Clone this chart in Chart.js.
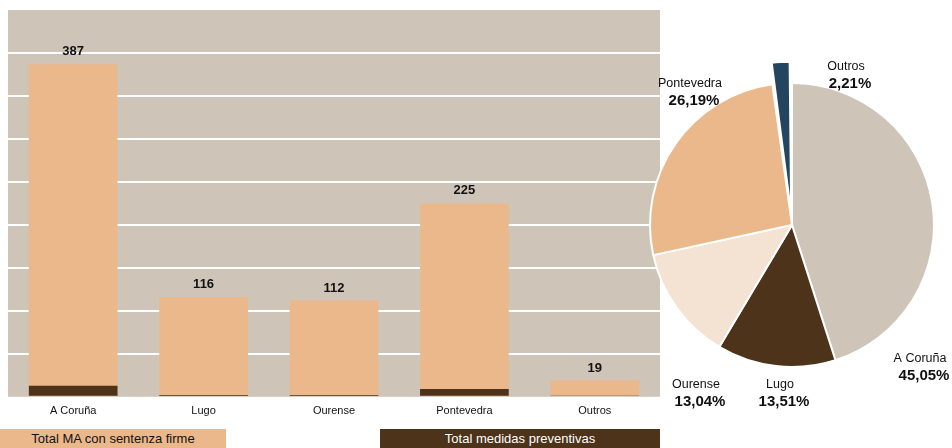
<!DOCTYPE html>
<html>
<head>
<meta charset="utf-8">
<script src="https://cdn.jsdelivr.net/npm/chart.js@4.4.1/dist/chart.umd.min.js"></script>
<style>
    body { margin: 0; background: #fff; font-family: "Liberation Sans", Arial, sans-serif; }
    #wrap { position: relative; width: 952px; height: 448px; overflow: hidden; }
    #bars { position: absolute; left: 0; top: 0; }
    #pie { position: absolute; left: 640px; top: 0; }
    .legend { position: absolute; top: 429px; height: 20px; line-height: 20px; font-size: 13px; text-align: center; }
    #legA { left: 0; width: 226px; background: #ebb88c; color: #111; }
    #legB { left: 380px; width: 280px; background: #4c3319; color: #fff; }
</style>
</head>
<body>
<div id="wrap">
    <canvas id="bars" width="664" height="418"></canvas>
    <canvas id="pie" width="312" height="448"></canvas>
    <div class="legend" id="legA">Total MA con sentenza firme</div>
    <div class="legend" id="legB">Total medidas preventivas</div>
</div>
<script>
// Data
const provinces = ['A Coruña', 'Lugo', 'Ourense', 'Pontevedra', 'Outros'];
const totalFirm = [387, 116, 112, 225, 19];
const totalPreventive = [13, 2, 2, 9, 1];
const pieShares = [45.05, 13.51, 13.04, 26.19, 2.21];
const yTicks = [0, 50, 100, 150, 200, 250, 300, 350, 400, 450];

const LIGHT = '#ebb88c';
const DARK = '#4c3319';
const PLOT_BG = '#cfc4b8';

// Grey plot background
const plotBackground = {
    id: 'plotBackground',
    beforeDraw(chart) {
        const { ctx, chartArea } = chart;
        ctx.save();
        ctx.fillStyle = PLOT_BG;
        ctx.fillRect(chartArea.left, chartArea.top, chartArea.right - chartArea.left, chartArea.bottom - chartArea.top);
        ctx.restore();
    }
};

// Value labels above the bars
const barValues = {
    id: 'barValues',
    afterDatasetsDraw(chart) {
        const { ctx } = chart;
        const meta = chart.getDatasetMeta(0);
        ctx.save();
        ctx.font = 'bold 13px "Liberation Sans", Arial, sans-serif';
        ctx.fillStyle = '#111';
        ctx.textAlign = 'center';
        ctx.textBaseline = 'bottom';
        meta.data.forEach((bar, i) => {
            ctx.fillText(totalFirm[i], bar.x, bar.y - 6);
        });
        ctx.restore();
    }
};

new Chart(document.getElementById('bars'), {
    type: 'bar',
    data: {
        labels: provinces,
        datasets: [{
            label: 'Total MA con sentenza firme',
            data: totalFirm,
            backgroundColor: LIGHT,
            grouped: false,
            order: 1
        }, {
            label: 'Total medidas preventivas',
            data: totalPreventive,
            backgroundColor: DARK,
            grouped: false,
            order: 0
        }]
    },
    options: {
        responsive: false,
        animation: false,
        layout: { padding: { left: 8, right: 4, top: 10, bottom: 0 } },
        plugins: { legend: { display: false }, tooltip: { enabled: false } },
        datasets: { bar: { categoryPercentage: 1, barPercentage: 0.68 } },
        scales: {
            x: {
                grid: { display: false },
                border: { display: false },
                ticks: { color: '#111', padding: 0, font: { family: '"Liberation Sans", Arial, sans-serif', size: 11 } }
            },
            y: {
                min: yTicks[0],
                max: yTicks[yTicks.length - 1],
                afterBuildTicks(scale) { scale.ticks = yTicks.map(v => ({ value: v })); },
                ticks: { display: false },
                border: { display: false },
                grid: {
                    drawTicks: false,
                    lineWidth: 2,
                    color: c => (c.tick.value > yTicks[0] && c.tick.value < yTicks[yTicks.length - 1]) ? '#ffffff' : 'rgba(0,0,0,0)'
                }
            }
        }
    },
    plugins: [plotBackground, barValues]
});

// Pie labels: name + share, placed like the original
const pieLabelPos = [[128, 134], [-12, 160], [-96, 160], [-102, -141], [54, -158]];
const pieLabels = {
    id: 'pieLabels',
    afterDraw(chart) {
        const { ctx } = chart;
        const arc = chart.getDatasetMeta(0).data[0];
        ctx.save();
        ctx.fillStyle = '#111';
        ctx.textAlign = 'center';
        ctx.textBaseline = 'middle';
        provinces.forEach((name, i) => {
            const x = arc.x + pieLabelPos[i][0];
            const y = arc.y + pieLabelPos[i][1];
            ctx.font = '12.5px "Liberation Sans", Arial, sans-serif';
            ctx.fillText(name, x, y);
            ctx.font = 'bold 15px "Liberation Sans", Arial, sans-serif';
            ctx.fillText(pieShares[i].toFixed(2).replace('.', ',') + '%', x + 4, y + 17);
        });
        ctx.restore();
    }
};

new Chart(document.getElementById('pie'), {
    type: 'pie',
    data: {
        labels: provinces,
        datasets: [{
            data: pieShares,
            backgroundColor: [PLOT_BG, DARK, '#f4e2d2', LIGHT, '#24455f'],
            borderColor: '#ffffff',
            borderWidth: 2,
            offset: [0, 0, 0, 0, 46]
        }]
    },
    options: {
        responsive: false,
        animation: false,
        radius: 142,
        layout: { padding: { left: 0, right: 8, top: 2, bottom: 0 } },
        plugins: { legend: { display: false }, tooltip: { enabled: false } }
    },
    plugins: [pieLabels]
});
</script>
</body>
</html>
